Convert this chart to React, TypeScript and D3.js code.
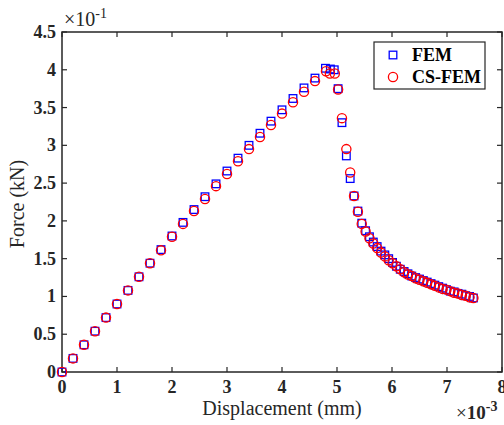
import React from "react";
import * as d3 from "d3";

// Displacement (×1e-3 mm) and Force (×1e-1 kN)
const femX = [0, 0.2, 0.4, 0.6, 0.8, 1.0, 1.2, 1.4, 1.6, 1.8, 2.0, 2.2, 2.4, 2.6, 2.8, 3.0, 3.2, 3.4, 3.6, 3.8, 4.0, 4.2, 4.4, 4.6, 4.79, 4.88, 4.95, 5.02, 5.09, 5.17, 5.24,
  5.31, 5.38, 5.45, 5.52, 5.59, 5.66, 5.73, 5.80, 5.87, 5.94, 6.01, 6.08, 6.15, 6.22, 6.29, 6.36, 6.43, 6.50, 6.57, 6.64, 6.71, 6.78, 6.85, 6.92, 6.99, 7.06, 7.13, 7.20, 7.27, 7.34, 7.41, 7.48];
const femY = [0, 0.18, 0.36, 0.54, 0.72, 0.90, 1.08, 1.26, 1.44, 1.62, 1.80, 1.98, 2.15, 2.32, 2.49, 2.66, 2.83, 3.00, 3.16, 3.32, 3.47, 3.62, 3.76, 3.89, 4.02, 4.01, 4.00, 3.75, 3.30, 2.86, 2.56,
  2.33, 2.13, 1.97, 1.87, 1.79, 1.72, 1.66, 1.60, 1.55, 1.50, 1.45, 1.40, 1.36, 1.33, 1.30, 1.27, 1.25, 1.23, 1.21, 1.19, 1.17, 1.15, 1.13, 1.11, 1.09, 1.07, 1.06, 1.04, 1.03, 1.01, 1.00, 0.98];
const csX = [0, 0.2, 0.4, 0.6, 0.8, 1.0, 1.2, 1.4, 1.6, 1.8, 2.0, 2.2, 2.4, 2.6, 2.8, 3.0, 3.2, 3.4, 3.6, 3.8, 4.0, 4.2, 4.4, 4.6, 4.80, 4.87, 4.96, 5.02, 5.09, 5.17, 5.24,
  5.31, 5.38, 5.45, 5.52, 5.59, 5.66, 5.73, 5.80, 5.87, 5.94, 6.01, 6.08, 6.15, 6.22, 6.29, 6.36, 6.43, 6.50, 6.57, 6.64, 6.71, 6.78, 6.85, 6.92, 6.99, 7.06, 7.13, 7.20, 7.27, 7.34, 7.41, 7.48];
const csY = [0, 0.18, 0.36, 0.54, 0.72, 0.90, 1.08, 1.26, 1.44, 1.61, 1.79, 1.96, 2.13, 2.29, 2.46, 2.62, 2.79, 2.95, 3.11, 3.27, 3.42, 3.57, 3.71, 3.85, 3.98, 3.95, 3.95, 3.74, 3.36, 2.95, 2.64,
  2.33, 2.12, 1.96, 1.86, 1.77, 1.70, 1.64, 1.58, 1.53, 1.48, 1.44, 1.40, 1.36, 1.32, 1.29, 1.27, 1.24, 1.22, 1.20, 1.18, 1.16, 1.14, 1.12, 1.10, 1.09, 1.07, 1.05, 1.04, 1.02, 1.01, 0.99, 0.98];
const xTicks = [0, 1, 2, 3, 4, 5, 6, 7, 8];
const yTicks = [0, 0.5, 1, 1.5, 2, 2.5, 3, 3.5, 4, 4.5];
const seriesNames = ["FEM", "CS-FEM"];

const W = 504, H = 425;
const L = 62, R = 502, T = 32, B = 372;
const axisColor = "#262626";
const serif = "'Liberation Serif', 'Times New Roman', serif";

export default function App() {
  const x = d3.scaleLinear().domain([0, 8]).range([L, R]);
  const y = d3.scaleLinear().domain([0, 4.5]).range([B, T]);
  const tickLen = 5;
  return (
    <svg width={W} height={H} style={{ position: "absolute", left: 0, top: 0, background: "#fff" }}>
      <rect x={0} y={0} width={W} height={H} fill="#fff" />
      {/* frame */}
      <rect x={L} y={T} width={R - L} height={B - T} fill="none" stroke={axisColor} strokeWidth={1.5} />
      {xTicks.map((t) => (
        <g key={"xt" + t}>
          <line x1={x(t)} x2={x(t)} y1={B} y2={B - tickLen} stroke={axisColor} strokeWidth={1.2} />
          <line x1={x(t)} x2={x(t)} y1={T} y2={T + tickLen} stroke={axisColor} strokeWidth={1.2} />
          <text x={x(t)} y={B + 21} textAnchor="middle" fontFamily={serif} fontWeight="bold" fontSize={18} fill={axisColor}>{t}</text>
        </g>
      ))}
      {yTicks.map((t) => (
        <g key={"yt" + t}>
          <line x1={L} x2={L + tickLen} y1={y(t)} y2={y(t)} stroke={axisColor} strokeWidth={1.2} />
          <line x1={R} x2={R - tickLen} y1={y(t)} y2={y(t)} stroke={axisColor} strokeWidth={1.2} />
          <text x={L - 6} y={y(t) + 6} textAnchor="end" fontFamily={serif} fontWeight="bold" fontSize={18} fill={axisColor}>{t}</text>
        </g>
      ))}
      {/* exponent labels */}
      <text x={64} y={26} fontFamily={serif} fontSize={20} fill={axisColor}>
        ×10<tspan dy={-8} fontSize={14}>-1</tspan>
      </text>
      <text x={456} y={419} fontFamily={serif} fontWeight="bold" fontSize={19} fill={axisColor}>
        <tspan fontWeight="normal">×</tspan>10<tspan dy={-8} fontSize={14}>-3</tspan>
      </text>
      {/* axis labels */}
      <text x={(L + R) / 2} y={415} textAnchor="middle" fontFamily={serif} fontSize={20} fill={axisColor}>Displacement (mm)</text>
      <text transform={`translate(24,${(T + B) / 2 + 2}) rotate(-90)`} textAnchor="middle" fontFamily={serif} fontSize={20} fill={axisColor}>Force (kN)</text>
      {/* FEM squares */}
      {femX.map((v, i) => (
        <rect key={"f" + i} x={x(v) - 3.8} y={y(femY[i]) - 3.8} width={7.6} height={7.6} fill="none" stroke="#0000ff" strokeWidth={1.3} />
      ))}
      {/* CS-FEM circles */}
      {csX.map((v, i) => (
        <circle key={"c" + i} cx={x(v)} cy={y(csY[i])} r={4.6} fill="none" stroke="#ff0000" strokeWidth={1.3} />
      ))}
      {/* legend */}
      <rect x={374} y={42} width={111} height={47} fill="#fff" stroke={axisColor} strokeWidth={1.2} />
      <rect x={393 - 3.8} y={55 - 3.8} width={7.6} height={7.6} fill="none" stroke="#0000ff" strokeWidth={1.3} />
      <circle cx={393} cy={77} r={4.6} fill="none" stroke="#ff0000" strokeWidth={1.3} />
      <text x={412} y={61} fontFamily={serif} fontWeight="bold" fontSize={18} fill="#000">{seriesNames[0]}</text>
      <text x={412} y={83} fontFamily={serif} fontWeight="bold" fontSize={18} fill="#000">{seriesNames[1]}</text>
    </svg>
  );
}
